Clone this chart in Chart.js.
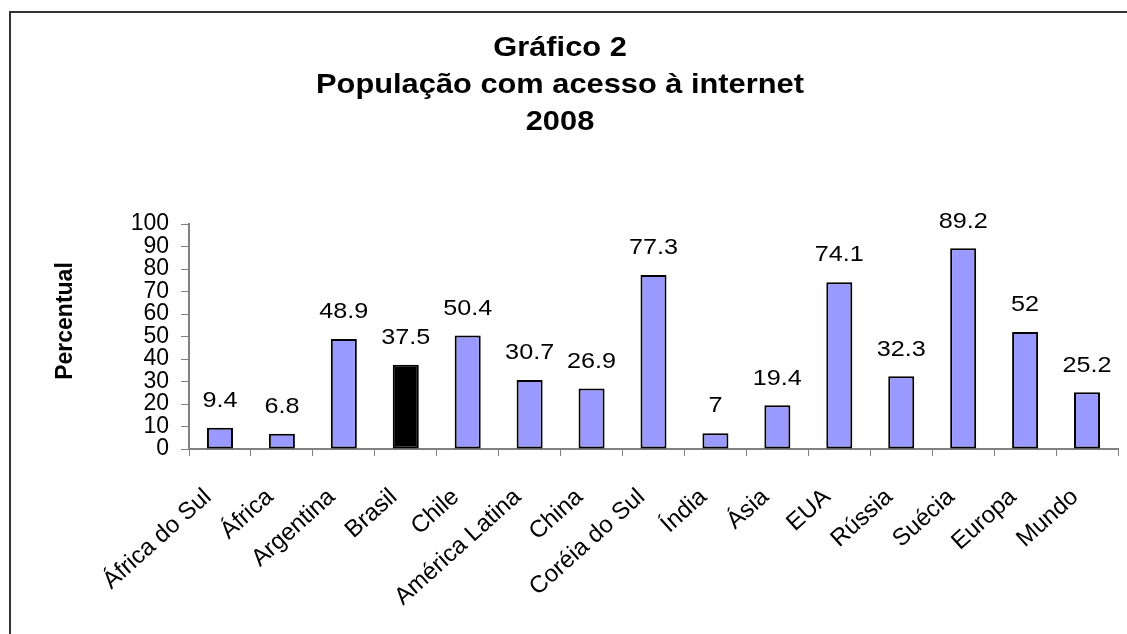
<!DOCTYPE html>
<html>
<head>
<meta charset="utf-8">
<script src="https://cdn.jsdelivr.net/npm/chart.js@4.4.1/dist/chart.umd.min.js"></script>
<style>
  html, body { margin: 0; padding: 0; background: #fff; overflow: hidden; }
  #wrap { position: relative; width: 1127px; height: 634px; }
  #frame { position: absolute; left: 9px; top: 11px; width: 1300px; height: 800px; border: 2px solid #333; box-sizing: border-box; }
  #c { position: absolute; left: 0; top: 0; }
</style>
</head>
<body>
<div id="wrap">
  <div id="frame"></div>
  <canvas id="c" width="1127" height="634"></canvas>
</div>
<script>
const categories = ["África do Sul", "África", "Argentina", "Brasil", "Chile", "América Latina", "China", "Coréia do Sul", "Índia", "Ásia", "EUA", "Rússia", "Suécia", "Europa", "Mundo"];
const percentual = [9.4, 6.8, 48.9, 37.5, 50.4, 30.7, 26.9, 77.3, 7, 19.4, 74.1, 32.3, 89.2, 52, 25.2];
const highlight = "Brasil";
const titleLines = ["Gráfico 2", "População com acesso à internet", "2008"];
const yTitle = "Percentual";

const FONT = "'Liberation Sans', Arial, sans-serif";

// texto um pouco esticado na horizontal, como no original
function wideText(ctx, text, x, y, sx) {
  ctx.save();
  ctx.translate(x, y);
  ctx.scale(sx, 1);
  ctx.fillText(text, 0, 0);
  ctx.restore();
}

// titulo, rotulo do eixo y e valores acima das barras
const textPlugin = {
  id: "textPlugin",
  afterDraw(chart) {
    const ctx = chart.ctx;
    ctx.save();
    ctx.fillStyle = "#000";
    ctx.textAlign = "center";
    ctx.textBaseline = "alphabetic";
    ctx.font = "bold 28px " + FONT;
    const baselines = [56, 93, 130];
    titleLines.forEach((t, i) => wideText(ctx, t, 560, baselines[i], 1.1));

    ctx.save();
    ctx.translate(66, 321);
    ctx.rotate(-Math.PI / 2);
    ctx.font = "bold 23px " + FONT;
    ctx.textBaseline = "middle";
    ctx.fillText(yTitle, 0, 0);
    ctx.restore();

    ctx.font = "22.5px " + FONT;
    ctx.textBaseline = "middle";
    const meta = chart.getDatasetMeta(0);
    meta.data.forEach((bar, i) => {
      wideText(ctx, String(percentual[i]), bar.x, bar.y - 27, 1.12);
    });
    ctx.restore();
  },
};

new Chart(document.getElementById("c"), {
  type: "bar",
  data: {
    labels: categories,
    datasets: [
      {
        data: percentual,
        backgroundColor: categories.map((c) => (c === highlight ? "#000000" : "#9999ff")),
        borderColor: "#000",
        borderWidth: 2,
        borderSkipped: false,
        barPercentage: 0.42,
        categoryPercentage: 1,
      },
    ],
  },
  options: {
    responsive: false,
    animation: false,
    layout: { padding: { top: 224, right: 9, left: 0, bottom: 0 } },
    plugins: { legend: { display: false }, tooltip: { enabled: false } },
    scales: {
      x: {
        afterFit: (s) => {
          s.height = 185;
          s.paddingLeft = 0;
          s.paddingRight = 0;
        },
        grid: { drawOnChartArea: false, color: "#808080", tickLength: 7 },
        border: { color: "#808080", width: 2 },
        ticks: { maxRotation: 42, minRotation: 42, autoSkip: false, padding: 27, labelOffset: -12, color: "#000", font: { family: FONT, size: 24 } },
      },
      y: {
        min: 0,
        max: 100,
        afterFit: (s) => { s.width = 189; },
        grid: { drawOnChartArea: false, color: "#808080", tickLength: 8 },
        border: { color: "#808080", width: 2 },
        ticks: { stepSize: 10, autoSkip: false, padding: 12, color: "#000", font: { family: FONT, size: 23 } },
      },
    },
  },
  plugins: [textPlugin],
});
</script>
</body>
</html>
